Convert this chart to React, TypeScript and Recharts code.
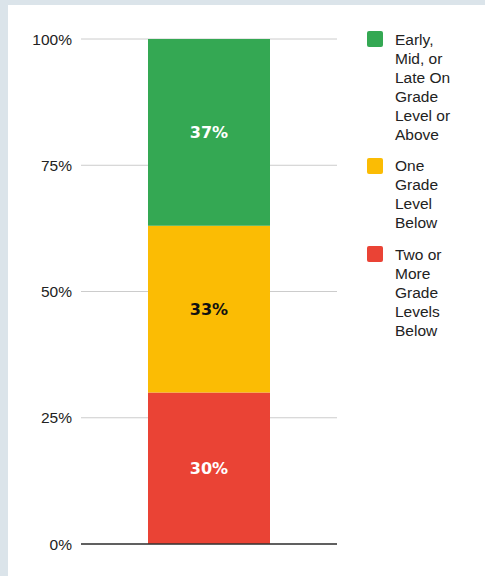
import React from 'react';
import { BarChart, Bar, XAxis, YAxis, CartesianGrid, ReferenceLine, LabelList } from 'recharts';

// share of students per reading level
const categories = ['All students'];
const belowTwo = [0.30];
const belowOne = [0.33];
const onLevel = [0.37];
const yTicks = [0, 0.25, 0.5, 0.75, 1];

const series = [
  { key: 'onLevel', name: 'Early, Mid, or Late On Grade Level or Above', color: '#34a853', text: '#ffffff' },
  { key: 'belowOne', name: 'One Grade Level Below', color: '#fbbc04', text: '#111111' },
  { key: 'belowTwo', name: 'Two or More Grade Levels Below', color: '#ea4335', text: '#ffffff' },
];

const data = categories.map((c, i) => ({
  name: c,
  belowTwo: belowTwo[i],
  belowOne: belowOne[i],
  onLevel: onLevel[i],
}));

const pct = (v: any) => `${Math.round(Number(v) * 100)}%`;

const LegendBox = () => (
  <div
    style={{
      position: 'absolute', left: 359, top: 26, width: 110,
      fontFamily: '"Liberation Sans", Arial, sans-serif', fontSize: 15.5, color: '#222',
    }}
  >
    {series.map((s) => (
      <div key={s.key} style={{ display: 'flex', alignItems: 'flex-start', marginBottom: 14 }}>
        <div style={{ width: 16, height: 16, background: s.color, borderRadius: 2, flex: 'none' }} />
        <div style={{ width: 62, marginLeft: 12, lineHeight: '19px', marginTop: -1.5 }}>{s.name}</div>
      </div>
    ))}
  </div>
);

export default function App() {
  // stacking order bottom to top
  const stack = [series[2], series[1], series[0]];
  return (
    <div style={{ position: 'absolute', left: 0, top: 0, width: 485, height: 576, background: '#dbe4ea' }}>
      <div style={{ position: 'absolute', left: 8, top: 5, width: 477, height: 571, background: '#ffffff' }}>
        <BarChart
          width={477}
          height={571}
          data={data}
          margin={{ top: 34, right: 148, bottom: 32, left: 0 }}
        >
          <CartesianGrid vertical={false} stroke="#cccccc" />
          <XAxis dataKey="name" hide />
          <YAxis
            width={73}
            domain={[0, 1]}
            ticks={yTicks}
            tickFormatter={pct}
            axisLine={false}
            tickLine={false}
            tickSize={0}
            tickMargin={9}
            tick={{ fill: '#222', fontSize: 15.5, fontFamily: '"Liberation Sans", Arial, sans-serif' }}
          />
          <ReferenceLine y={0} stroke="#333333" strokeWidth={1.3} />
          {stack.map((s) => (
            <Bar key={s.key} dataKey={s.key} name={s.name} stackId="a" fill={s.color} barSize={122} isAnimationActive={false}>
              <LabelList
                dataKey={s.key}
                position="center"
                formatter={pct}
                fill={s.text}
                style={{ fontFamily: '"DejaVu Sans", Verdana, sans-serif', fontWeight: 'bold', fontSize: 16 }}
              />
            </Bar>
          ))}
        </BarChart>
        <LegendBox />
      </div>
    </div>
  );
}
